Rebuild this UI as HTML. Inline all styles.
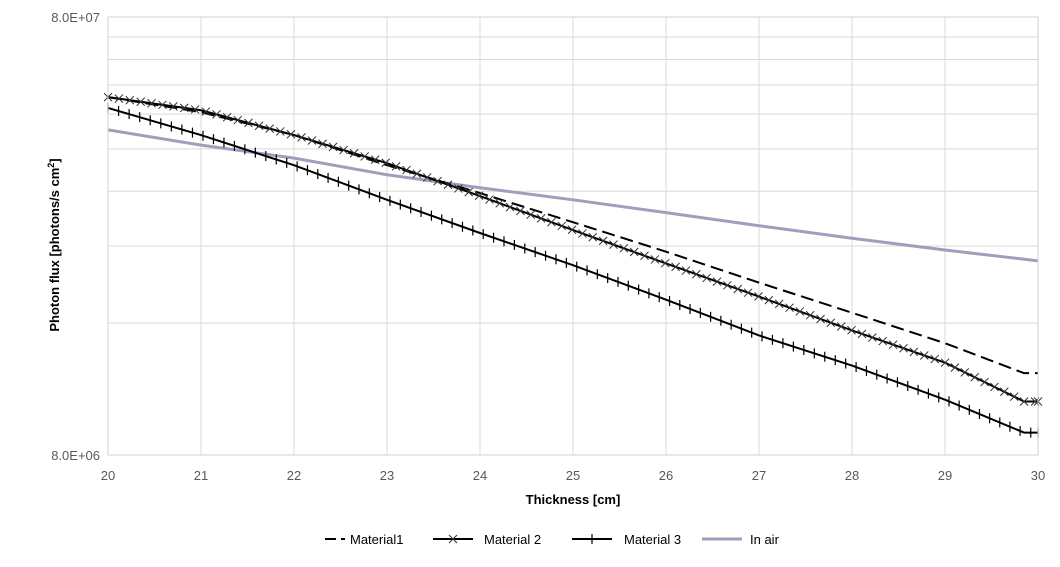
<!DOCTYPE html>
<html><head><meta charset="utf-8"><style>
body{margin:0;background:#fff;font-family:"Liberation Sans",sans-serif}
svg text{font-family:"Liberation Sans",sans-serif}
</style></head><body>
<svg id="c" width="1060" height="562"></svg>
<script>
const xs=[20,21,22,23,24,25,26,27,28,29,29.85,30];
const material1=[52.5,48.5,43.0,36.7,31.7,27.2,23.3,19.8,16.9,14.4,12.3,12.3];
const material2=[52.5,49.0,43.0,37.1,31.2,26.1,21.9,18.4,15.4,13.0,10.6,10.6];
const material3=[49.6,43.0,36.7,30.6,25.7,21.7,18.1,15.0,12.8,10.7,9.0,9.0];
const airX=[20,21,22,23,24,25,26,27,28,29,30];
const inAir=[44.2,40.8,38.1,34.9,32.6,30.6,28.6,26.7,25.0,23.5,22.2];
const xTicks=[20,21,22,23,24,25,26,27,28,29,30];
const yTickLabels=["8.0E+06","8.0E+07"];
const yGridMult=[1,2,3,4,5,6,7,8,9,10];
const NS="http://www.w3.org/2000/svg",svg=document.getElementById('c');
const L=108,R=1038,T=17,B=455;
const X=v=>L+(v-20)/10*(R-L);
const Y=v=>B-Math.log10(v/8)*(B-T);
function el(t,a,p){const e=document.createElementNS(NS,t);for(const k in a)e.setAttribute(k,a[k]);(p||svg).appendChild(e);return e;}
yGridMult.forEach(m=>{const g=el('line',{x1:L,x2:R,y1:Y(8*m),y2:Y(8*m),stroke:'#d9d9d9'});

});
xTicks.forEach(t=>{const g=el('line',{x1:X(t),x2:X(t),y1:T,y2:B,stroke:'#d9d9d9'});


const tx=el('text',{x:X(t),y:480,'text-anchor':'middle','font-size':13,fill:'#595959'});tx.textContent=t;

});
[[8,yTickLabels[0]],[80,yTickLabels[1]]].forEach(([v,s])=>{const tx=el('text',{x:100,y:Y(v)+5,'text-anchor':'end','font-size':13,fill:'#595959'});tx.textContent=s;

});
function pts(xa,ya){return xa.map((x,i)=>X(x)+','+Y(ya[i])).join(' ');}
function series(xa,ya,name,attrs,marker){
const g=el('g',{});


const p=el('polyline',Object.assign({points:pts(xa,ya),fill:'none'},attrs),g);
if(marker){const len=p.getTotalLength();for(let d=0;d<=len;d+=11){const q=p.getPointAtLength(d);drawMarker(g,q.x,q.y,marker);}
const q=p.getPointAtLength(len);drawMarker(g,q.x,q.y,marker);}
return g;}
function drawMarker(g,x,y,m){const s=4;
if(m==='x'){el('path',{d:`M${x-s},${y-s}L${x+s},${y+s}M${x-s},${y+s}L${x+s},${y-s}`,stroke:'#333','stroke-width':1},g);}
else{el('path',{d:`M${x},${y-s-1}L${x},${y+s+1}`,stroke:'#000','stroke-width':1.2},g);}}
series(airX,inAir,'series-in-air',{stroke:'#a59bbd','stroke-width':3});
series(xs,material1,'series-material1',{stroke:'#000','stroke-width':2,'stroke-dasharray':'13,6'});
series(xs,material2,'series-material2',{stroke:'#000','stroke-width':2},'x');
series(xs,material3,'series-material3',{stroke:'#000','stroke-width':2},'+');
el('rect',{x:L,y:T,width:R-L,height:B-T,fill:'none',stroke:'#d0d0d0'});
let t=el('text',{x:573,y:504,'text-anchor':'middle','font-size':13,'font-weight':'bold',fill:'#000'});t.textContent='Thickness [cm]';


t=el('text',{transform:'translate(59,245) rotate(-90)','text-anchor':'middle','font-size':13,'font-weight':'bold',fill:'#000'});
t.innerHTML='Photon flux [photons/s cm<tspan dy="-5" font-size="9">2</tspan><tspan dy="5">]</tspan>';


const leg=[[325,20,350,'Material1',{'stroke-dasharray':'11,5',stroke:'#000','stroke-width':2},null],[433,40,484,'Material 2',{stroke:'#000','stroke-width':2},'x'],[572,40,624,'Material 3',{stroke:'#000','stroke-width':2},'+'],[702,40,750,'In air',{stroke:'#a59bbd','stroke-width':3},null]];
leg.forEach(([x,w,tx0,s,a,m])=>{const g=el('g',{});


el('line',Object.assign({x1:x,x2:x+w,y1:539,y2:539},a),g);
if(m)drawMarker(g,x+w/2,539,m);
const tx=el('text',{x:tx0,y:544,'font-size':13,fill:'#000'},g);tx.textContent=s;});
</script>
</body></html>
